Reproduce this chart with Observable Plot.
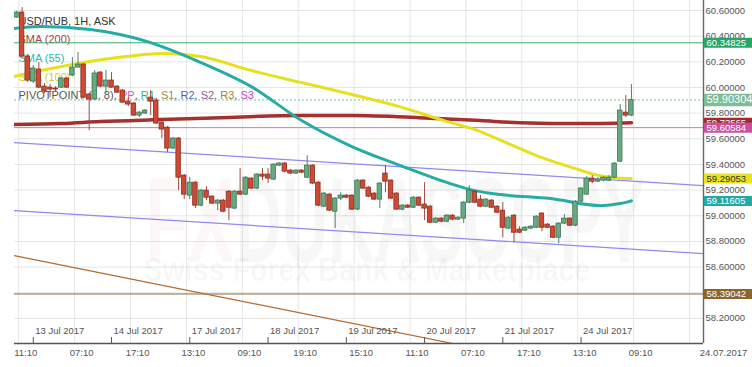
<!DOCTYPE html>
<html><head><meta charset="utf-8">
<script src="https://cdn.jsdelivr.net/npm/d3@7"></script>
<script src="https://cdn.jsdelivr.net/npm/@observablehq/plot@0.6"></script>
<style>
body{margin:0;background:#fff;}
#chart{width:752px;height:367px;overflow:hidden;}
</style></head><body><div id="chart"></div>
<script>
// ---- candle data (USD/RUB, 1H) ----
const openV = [
60.545, 60.584, 60.241, 60.046, 60.140, 60.007, 59.999, 59.992, 59.999, 60.070,
60.093, 60.155, 60.179, 59.945, 59.906, 60.116, 60.007, 60.054, 60.007, 59.976,
59.890, 59.875, 59.781, 59.797, 59.921, 59.898, 59.726, 59.687, 59.524, 59.602,
59.313, 59.157, 59.258, 59.079, 59.196, 59.149, 59.095, 59.118, 59.188, 59.056,
59.188, 59.165, 59.290, 59.212, 59.321, 59.321, 59.282, 59.391, 59.407, 59.352,
59.329, 59.352, 59.297, 59.391, 59.258, 59.071, 59.165, 59.032, 59.134, 59.157,
59.157, 59.048, 59.274, 59.219, 59.173, 59.126, 59.329, 59.274, 59.173, 59.048,
59.079, 59.063, 59.141, 59.087, 59.071, 58.946, 58.978, 58.954, 59.001, 58.970,
58.978, 59.102, 59.188, 59.126, 59.071, 59.118, 59.071, 59.040, 58.900, 59.001,
58.892, 58.884, 58.900, 58.907, 59.017, 58.931, 58.915, 58.829, 58.939, 58.978,
58.923, 59.110, 59.165, 59.290, 59.266, 59.274, 59.274, 59.297, 59.422, 59.804,
59.781];
const closeV = [
60.584, 60.241, 60.054, 60.148, 59.999, 59.968, 59.984, 59.984, 60.070, 59.999,
60.155, 60.179, 59.921, 59.906, 60.109, 60.007, 60.054, 59.999, 59.960, 59.882,
59.867, 59.781, 59.804, 59.820, 59.890, 59.719, 59.672, 59.524, 59.602, 59.297,
59.165, 59.258, 59.079, 59.196, 59.141, 59.095, 59.118, 59.032, 59.063, 59.188,
59.165, 59.297, 59.212, 59.321, 59.305, 59.290, 59.399, 59.407, 59.344, 59.329,
59.352, 59.336, 59.391, 59.251, 59.079, 59.173, 59.040, 59.134, 59.157, 59.141,
59.048, 59.274, 59.212, 59.149, 59.126, 59.251, 59.266, 59.134, 59.048, 59.079,
59.063, 59.141, 59.079, 59.056, 58.946, 58.978, 58.954, 59.001, 58.970, 58.985,
59.102, 59.196, 59.102, 59.071, 59.126, 59.063, 59.024, 58.907, 58.985, 58.868,
58.868, 58.907, 58.915, 58.993, 58.907, 58.907, 58.829, 58.939, 58.978, 58.923,
59.110, 59.212, 59.290, 59.266, 59.282, 59.297, 59.297, 59.407, 59.820, 59.781,
59.903];
const highV = [
60.592, 60.623, 60.249, 60.171, 60.194, 60.031, 60.023, 60.007, 60.077, 60.077,
60.233, 60.272, 60.187, 59.953, 60.132, 60.124, 60.132, 60.116, 60.015, 59.984,
59.921, 59.882, 59.812, 59.828, 59.976, 59.906, 59.734, 59.695, 59.609, 59.609,
59.321, 59.297, 59.266, 59.204, 59.227, 59.157, 59.126, 59.126, 59.196, 59.196,
59.368, 59.305, 59.297, 59.329, 59.368, 59.368, 59.407, 59.414, 59.414, 59.360,
59.360, 59.360, 59.469, 59.399, 59.266, 59.180, 59.173, 59.141, 59.180, 59.165,
59.165, 59.282, 59.282, 59.227, 59.180, 59.258, 59.391, 59.282, 59.180, 59.087,
59.087, 59.149, 59.149, 59.258, 59.079, 58.985, 58.985, 59.009, 59.009, 58.993,
59.110, 59.235, 59.196, 59.157, 59.134, 59.126, 59.079, 59.102, 58.993, 59.009,
58.915, 58.915, 58.923, 59.001, 59.024, 58.939, 58.923, 58.946, 59.009, 58.985,
59.118, 59.219, 59.305, 59.313, 59.297, 59.305, 59.313, 59.414, 59.867, 59.937,
60.023];
const lowV = [
60.538, 60.233, 60.038, 60.031, 59.992, 59.953, 59.921, 59.960, 59.992, 59.992,
60.085, 60.155, 59.914, 59.664, 59.898, 59.999, 59.953, 59.992, 59.953, 59.875,
59.851, 59.773, 59.765, 59.789, 59.781, 59.711, 59.602, 59.492, 59.516, 59.196,
59.126, 59.126, 59.056, 59.071, 59.118, 59.087, 59.040, 59.024, 58.962, 59.048,
59.157, 59.157, 59.204, 59.204, 59.274, 59.251, 59.274, 59.383, 59.336, 59.321,
59.321, 59.329, 59.290, 59.243, 59.071, 59.063, 59.032, 58.900, 59.118, 59.134,
59.040, 59.040, 59.204, 59.141, 59.118, 59.056, 59.180, 59.126, 59.040, 59.040,
59.056, 59.056, 59.071, 58.962, 58.939, 58.939, 58.946, 58.946, 58.962, 58.962,
58.939, 59.095, 59.095, 59.063, 59.063, 59.056, 59.017, 58.829, 58.892, 58.790,
58.861, 58.876, 58.892, 58.900, 58.876, 58.900, 58.822, 58.783, 58.931, 58.915,
58.915, 59.102, 59.157, 59.251, 59.258, 59.266, 59.266, 59.290, 59.414, 59.765,
59.773];

// ---- indicators ----
const sma200Idx = [-0.4, 8, 15, 26, 36.5, 51, 60, 72, 83, 90, 101, 110];
const sma200Val = [59.711, 59.719, 59.734, 59.750, 59.765, 59.781, 59.781, 59.765, 59.742, 59.726, 59.719, 59.726];
const sma100Idx = [-0.4, 9, 18, 26.5, 33, 42, 51, 60, 68.5, 76.5, 82, 88, 94, 100, 103.5, 107, 110];
const sma100Val = [60.085, 60.171, 60.233, 60.265, 60.241, 60.132, 60.038, 59.945, 59.851, 59.742, 59.672, 59.563, 59.453, 59.368, 59.321, 59.297, 59.2905];
const sma55Idx = [-0.4, 4.3, 13.2, 24, 33, 42, 51, 60, 68.7, 77.6, 82, 86.6, 95.5, 104.5, 108, 110];
const sma55Val = [60.460, 60.475, 60.452, 60.350, 60.194, 60.007, 59.742, 59.539, 59.391, 59.251, 59.196, 59.165, 59.134, 59.079, 59.095, 59.116];

const channelIdx = [-0.4, 123];
const upperVal = [59.570, 59.235];
const lowerVal = [59.040, 58.705];
const trendIdx = [-0.4, 90];
const trendVal = [58.689, 57.900];

const levelValues = [60.34825, 59.90304, 59.687, 58.39042];

const tagValues = [59.726, 59.687, 60.34825, 59.90304, 59.29053, 59.11605, 58.39042];
const tagTexts = ["59.72565", "59.60584", "60.34825", "59.90304", "59.29053", "59.11605", "58.39042"];

// ---- axes ----
const yTicks = [58.2, 58.4, 58.6, 58.8, 59.0, 59.2, 59.4, 59.6, 59.8, 60.0, 60.2, 60.4, 60.6];
const timeTickIdx = [0.4, 10.4, 20.4, 30.4, 40.4, 50.4, 60.4, 70.4, 80.4, 90.4, 100.4, 110.4, 120.4];
const timeLabels = ["11:10", "07:10", "17:10", "13:10", "09:10", "19:10", "15:10", "11:10", "07:10", "17:10", "13:10", "09:10", ""];
const dateTickIdx = [3, 17, 31, 45, 59, 73, 87, 101];
const dateLabels = ["13 Jul 2017", "14 Jul 2017", "17 Jul 2017", "18 Jul 2017", "19 Jul 2017", "20 Jul 2017", "21 Jul 2017", "24 Jul 2017"];
const dateStamp = "24.07.2017";

const legendLines = ["USD/RUB, 1H, ASK", "SMA (200)", "SMA (55)", "SMA (100)"];
const pivotParts = ["PIVOTPOINT (1, 8), ", "PP", ", ", "R1", ", ", "S1", ", ", "R2", ", ", "S2", ", ", "R3", ", ", "S3"];
const watermark = ["FX", "DUKASCOPY", "Swiss Forex Bank & Marketplace"];

// ---- styles ----
const levelStyles = [
  {stroke: "#35b06c", strokeWidth: 1},
  {stroke: "#7cc49b", strokeWidth: 1, strokeDasharray: "2,2"},
  {stroke: "#d277b3", strokeWidth: 1},
  {stroke: "#8d6a38", strokeWidth: 1}
];
const tagFill = ["#a32a2a", "#c9509f", "#2aa56a", "#7dbd97", "#e8e31c", "#22a9a3", "#8b6530"];
const tagInk = ["#fff", "#fff", "#fff", "#fff", "#333", "#fff", "#fff"];
const tagH = [10, 10, 10, 12.5, 10, 10, 10];
const tagFont = [9.5, 9.5, 9.5, 11, 9.5, 9.5, 9.5];
const legendColors = ["#333", "#b0413e", "#35b5ad", "#d8cc14"];
const pivotColors = ["#555", "#d354b8", "#555", "#3cb371", "#555", "#a08a4a", "#555", "#4a5fc1", "#555", "#8a5a9a", "#555", "#a57c3c", "#555", "#c040c0"];
const wmStyle = [
  {dx: 131, dy: 176, fontSize: 121, fill: "#e03a3a", fillOpacity: 0.045, width: 88},
  {dx: 221, dy: 176, fontSize: 121, fill: "#000", fillOpacity: 0.03, width: 410},
  {dx: 129, dy: 256, fontSize: 34, fill: "#000", fillOpacity: 0.035, width: 447}
];
const FONT = "'Liberation Sans', Arial, sans-serif";

// measure legend pieces so each one can be its own text
const ctx = document.createElement("canvas").getContext("2d");
ctx.font = `11px ${FONT}`;
const pivotOffsets = [];
pivotParts.reduce((acc, s) => { pivotOffsets.push(acc); return acc + ctx.measureText(s).width; }, 0);

const candles = openV.map((o, i) => ({i, o, h: highV[i], l: lowV[i], c: closeV[i]}));
const pts = (idx, val) => idx.map((i, k) => ({i, v: val[k]}));

const xDomain = [-0.36, 122.9];
const yDomain = [58.0045, 60.678];

const up = d => d.c >= d.o;

const marks = [
  Plot.ruleY(yTicks, {stroke: "#e6e6e6"}),
  Plot.ruleX(timeTickIdx, {stroke: "#e6e6e6"}),
  // watermark
  ...watermark.map((s, k) => Plot.text([s], {frameAnchor: "top-left", dx: wmStyle[k].dx, dy: wmStyle[k].dy, fontSize: wmStyle[k].fontSize,
    fontWeight: "bold", fill: wmStyle[k].fill, fillOpacity: wmStyle[k].fillOpacity, textAnchor: "start"})),
  // legend
  ...legendLines.map((s, k) => Plot.text([s], {frameAnchor: "top-left", dx: 4, dy: 16.5 + 18.6 * k, fontSize: 11, fill: legendColors[k], textAnchor: "start"})),
  ...pivotParts.map((s, k) => Plot.text([s], {frameAnchor: "top-left", dx: 4 + pivotOffsets[k], dy: 16.5 + 18.6 * 4, fontSize: 11, fill: pivotColors[k], textAnchor: "start"})),
  // horizontal levels
  ...levelValues.map((v, k) => Plot.ruleY([v], levelStyles[k])),
  // channel + trend lines
  Plot.line(pts(channelIdx, upperVal), {x: "i", y: "v", stroke: "#9188f2", strokeWidth: 1.2, clip: true}),
  Plot.line(pts(channelIdx, lowerVal), {x: "i", y: "v", stroke: "#9188f2", strokeWidth: 1.2, clip: true}),
  Plot.line(pts(trendIdx, trendVal), {x: "i", y: "v", stroke: "#b86a2c", strokeWidth: 1.2, clip: true}),
  // SMAs
  Plot.line(pts(sma200Idx, sma200Val), {x: "i", y: "v", stroke: "#a5302e", strokeWidth: 3.5, curve: "monotone-x", clip: true}),
  Plot.line(pts(sma100Idx, sma100Val), {x: "i", y: "v", stroke: "#e6e01e", strokeWidth: 3, curve: "monotone-x", clip: true}),
  Plot.line(pts(sma55Idx, sma55Val), {x: "i", y: "v", stroke: "#26aca5", strokeWidth: 3, curve: "monotone-x", clip: true}),
  // candles
  Plot.ruleX(candles, {x: "i", y1: "l", y2: "h", stroke: d => up(d) ? "#4d8062" : "#9b4a3e", strokeWidth: 1, clip: true}),
  Plot.rect(candles, {x1: d => d.i - 0.4, x2: d => d.i + 0.4, y1: "o", y2: "c",
    fill: d => up(d) ? "#67a982" : "#cf4a34", stroke: d => up(d) ? "#3b7552" : "#8c2c1f", strokeWidth: 0.8, clip: true}),
  // frame lines
  Plot.ruleY([yDomain[0]], {stroke: "#555", strokeWidth: 1.6}),
  Plot.ruleX([xDomain[1]], {stroke: "#666", strokeWidth: 1.4}),
  // date ticks & labels
  Plot.ruleX(dateTickIdx, {stroke: "#555", insetTop: 337}),
  Plot.text(dateTickIdx, {x: d => d, frameAnchor: "bottom", dy: -10, dx: 2, textAnchor: "start", text: (d, i) => dateLabels[i], fontSize: 9.5, fill: "#555"}),
  // y labels (right)
  Plot.text(yTicks, {y: d => d, frameAnchor: "right", dx: 2, textAnchor: "start", text: d => d.toFixed(5), fontSize: 9.5, fill: "#555"}),
  // time labels (bottom)
  Plot.text(timeTickIdx, {x: d => d, frameAnchor: "bottom", dy: 6, dx: 7, lineAnchor: "top", textAnchor: "middle", text: (d, i) => timeLabels[i], fontSize: 9.5, fill: "#555"}),
  Plot.text([dateStamp], {frameAnchor: "bottom-right", dx: 20, dy: 6, lineAnchor: "top", textAnchor: "middle", fontSize: 9.5, fill: "#555"}),
  // price tags (each box then its text, in order)
  ...tagValues.flatMap((v, k) => [
    Plot.ruleY([v], {x1: 123.05, x2: 131.8, stroke: tagFill[k], strokeWidth: tagH[k]}),
    Plot.text([v], {y: d => d, text: [tagTexts[k]], frameAnchor: "right", dx: 3, textAnchor: "start", fill: tagInk[k], fontSize: tagFont[k]})
  ])
];

const svg = Plot.plot({
  width: 752, height: 367,
  marginLeft: 14, marginRight: 49, marginTop: 0, marginBottom: 24,
  x: {domain: xDomain, axis: null},
  y: {domain: yDomain, axis: null},
  style: {background: "#fff", fontFamily: FONT, fontSize: "9.5px", color: "#555", overflow: "visible"},
  marks
});
document.getElementById("chart").appendChild(svg);

// condensed watermark (horizontal scale only)
svg.querySelectorAll("text").forEach(t => {
  const s = t.textContent;
  if (watermark.includes(s)) {
    const target = wmStyle[watermark.indexOf(s)].width;
    const sx = target / t.getComputedTextLength();
    const x = parseFloat(t.getAttribute("x"));
    if (x) t.setAttribute("x", x / sx);
    const tr = t.getAttribute("transform") || "";
    t.setAttribute("transform", `${tr} scale(${sx},1)`);
  }
});
</script>
</body></html>
